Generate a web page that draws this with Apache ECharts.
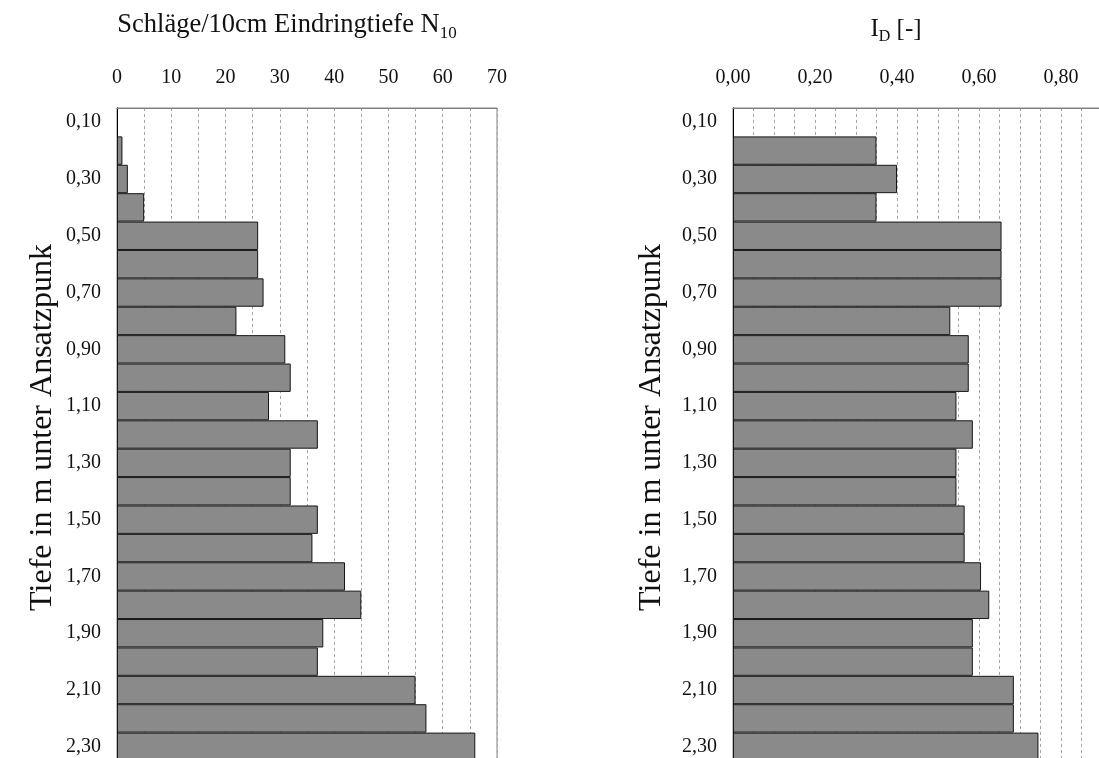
<!DOCTYPE html>
<html>
<head>
<meta charset="utf-8">
<script src="https://cdn.jsdelivr.net/npm/echarts@6/dist/echarts.min.js"></script>
<style>
  html, body { margin: 0; padding: 0; background: #fff; }
  #chart { width: 1099px; height: 758px; }
</style>
</head>
<body>
<div id="chart"></div>
<script>
// Depth rows (m below the starting point), top to bottom
const depths = ['0,10','0,20','0,30','0,40','0,50','0,60','0,70','0,80','0,90','1,00',
                '1,10','1,20','1,30','1,40','1,50','1,60','1,70','1,80','1,90','2,00',
                '2,10','2,20','2,30'];

// Blows per 10 cm penetration (N10)
const blows = [null, 1, 2, 5, 26, 26, 27, 22, 31, 32, 28, 37, 32, 32, 37, 36, 42, 45, 38, 37, 55, 57, 66];

// Relative density I_D [-]
const density = [null, 0.35, 0.40, 0.35, 0.655, 0.655, 0.655, 0.53, 0.575, 0.575, 0.545, 0.585,
                 0.545, 0.545, 0.565, 0.565, 0.605, 0.625, 0.585, 0.585, 0.685, 0.685, 0.745];

const FONT = '"Liberation Serif", "Times New Roman", serif';
const BAR_FILL = '#8a8a8a';
const BAR_EDGE = '#161616';

function deNum(v, digits) {
  return v.toFixed(digits).replace('.', ',');
}

function valueAxis(gridIndex, max, step, labelStep, digits) {
  return {
    type: 'value',
    gridIndex: gridIndex,
    position: 'top',
    min: 0,
    max: max,
    interval: step,
    axisLine: { show: true, lineStyle: { color: '#808080', width: 1 } },
    axisTick: { show: false },
    axisLabel: {
      margin: 20,
      color: '#111',
      fontFamily: FONT,
      fontSize: 20,
      formatter: function (v) {
        const k = v / labelStep;
        return Math.abs(k - Math.round(k)) < 1e-6 ? deNum(v, digits) : '';
      }
    },
    splitLine: { show: true, lineStyle: { color: '#a6a6a6', type: [3, 3], width: 1 } }
  };
}

function depthAxis(gridIndex, gap) {
  return {
    type: 'category',
    gridIndex: gridIndex,
    data: depths,
    inverse: true,
    name: 'Tiefe in m unter Ansatzpunk',
    nameLocation: 'middle',
    nameGap: gap,
    nameTextStyle: { fontFamily: FONT, fontSize: 32, color: '#111', padding: [0, 0, 0, 14] },
    axisLine: { show: true, lineStyle: { color: '#000', width: 1 } },
    axisTick: { show: false },
    axisLabel: { interval: 1, margin: 16, color: '#111', fontFamily: FONT, fontSize: 20 },
    splitLine: { show: false }
  };
}

function barSeries(idx, values) {
  return {
    type: 'bar',
    xAxisIndex: idx,
    yAxisIndex: idx,
    data: values,
    barCategoryGap: '0%',
    itemStyle: { color: BAR_FILL, borderColor: BAR_EDGE, borderWidth: 1 },
    emphasis: { disabled: true },
    silent: true
  };
}

const chart = echarts.init(document.getElementById('chart'), null, { renderer: 'canvas' });

chart.setOption({
  animation: false,
  backgroundColor: '#fff',
  title: [
    {
      text: 'Schläge/10cm Eindringtiefe N{sub|10}',
      left: 282, top: 3, textAlign: 'center',
      textStyle: {
        fontFamily: FONT, fontSize: 26.5, fontWeight: 'normal', color: '#111', lineHeight: 34,
        rich: { sub: { fontFamily: FONT, fontSize: 17, color: '#111', lineHeight: 34, verticalAlign: 'bottom' } }
      }
    },
    {
      text: 'I{sub|D} [-]',
      left: 891, top: 8, textAlign: 'center',
      textStyle: {
        fontFamily: FONT, fontSize: 25, fontWeight: 'normal', color: '#111', lineHeight: 32,
        rich: { sub: { fontFamily: FONT, fontSize: 16, color: '#111', lineHeight: 32, verticalAlign: 'bottom' } }
      }
    }
  ],
  grid: [
    { left: 117, top: 108, right: 602, bottom: -3, outerBoundsMode: 'none', show: true, borderColor: '#808080', borderWidth: 1, containLabel: false },
    { left: 733, top: 108, right: -44, bottom: -3, outerBoundsMode: 'none', show: true, borderColor: '#808080', borderWidth: 1, containLabel: false }
  ],
  xAxis: [
    valueAxis(0, 70, 5, 10, 0),
    valueAxis(1, 1, 0.05, 0.2, 2)
  ],
  yAxis: [
    depthAxis(0, 58),
    depthAxis(1, 65)
  ],
  series: [
    barSeries(0, blows),
    barSeries(1, density)
  ]
});
</script>
</body>
</html>
